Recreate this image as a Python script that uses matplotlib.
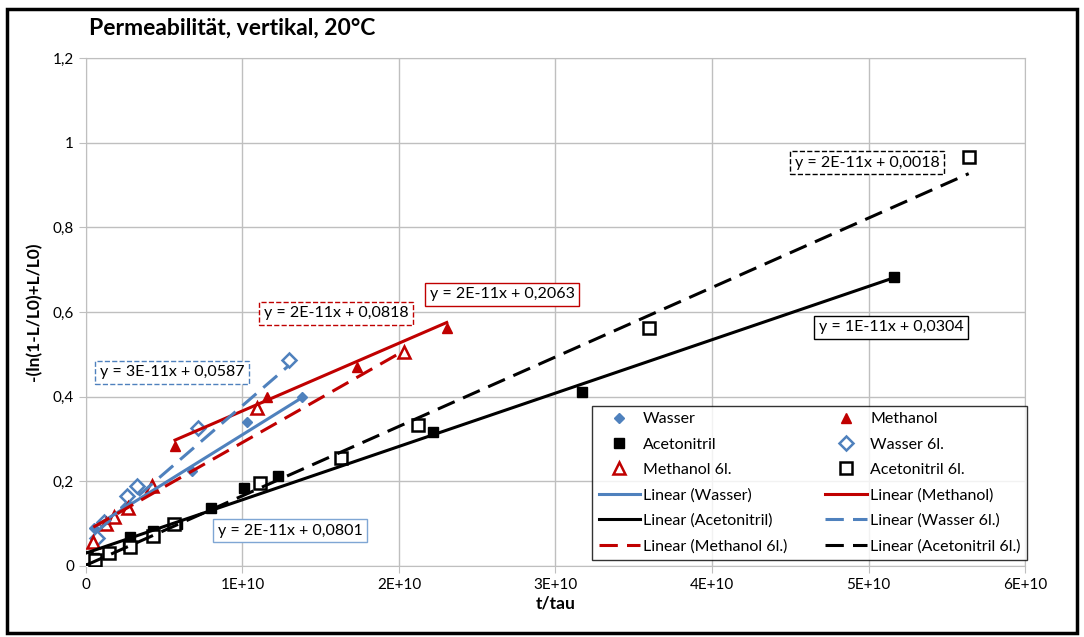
import matplotlib.pyplot as plt
from matplotlib.patches import Rectangle
from matplotlib.ticker import FuncFormatter, MultipleLocator

plt.rcParams['font.family'] = ['Lato', 'DejaVu Sans']

# Messwerte, t/tau in Einheiten von 1E+10
wasser_x = [0.05, 0.25, 0.68, 1.03, 1.38]
wasser_y = [0.09, 0.14, 0.224, 0.34, 0.40]

methanol_x = [0.569, 1.155, 1.73, 2.305]
methanol_y = [0.283, 0.399, 0.470, 0.561]

aceto_x = [0.0, 0.05, 0.27, 0.28, 0.43, 0.58, 0.80, 1.01, 1.23, 2.22, 3.17, 5.16]
aceto_y = [0.012, 0.02, 0.05, 0.068, 0.083, 0.10, 0.136, 0.185, 0.212, 0.317, 0.41, 0.682]

wasser6_x = [0.07, 0.115, 0.262, 0.326, 0.716, 1.297]
wasser6_y = [0.066, 0.104, 0.165, 0.189, 0.325, 0.486]

methanol6_x = [0.047, 0.13, 0.18, 0.27, 0.42, 1.09, 2.03]
methanol6_y = [0.057, 0.10, 0.115, 0.136, 0.19, 0.373, 0.505]

aceto6_x = [0.0, 0.0, 0.06, 0.15, 0.28, 0.43, 0.56, 1.11, 1.63, 2.12, 3.60, 5.64]
aceto6_y = [0.0, 0.02, 0.014, 0.03, 0.046, 0.07, 0.10, 0.195, 0.256, 0.334, 0.561, 0.965]

namen = ["Wasser", "Methanol", "Acetonitril", "Wasser 6l.", "Methanol 6l.", "Acetonitril 6l."]
xs = [wasser_x, methanol_x, aceto_x, wasser6_x, methanol6_x, aceto6_x]
ys = [wasser_y, methanol_y, aceto_y, wasser6_y, methanol6_y, aceto6_y]

# lineare Trendlinien: Steigung und Achsenabschnitt
trend_steigung = [2.3e-11, 1.6e-11, 1.26e-11, 3.2e-11, 2.1e-11, 1.64e-11]
trend_abschnitt = [0.0801, 0.2063, 0.0304, 0.0587, 0.0818, 0.0018]

# Lage der Gleichungsfelder (x in 1E+10, y)
gl_x = [1.304, 2.658, 5.144, 0.550, 1.597, 4.99]
gl_y = [0.083, 0.642, 0.564, 0.458, 0.597, 0.953]

blau = '#4F81BD'
rot = '#C00000'
schwarz = 'black'
farben = [blau, rot, schwarz, blau, rot, schwarz]
marker = ['D', '^', 's', 'D', '^', 's']
msize = [5, 7, 7, 7, 8, 8]
gefuellt = [True, True, True, False, False, False]

fig = plt.figure(figsize=(10.84, 6.37), dpi=100)
ax = fig.add_axes([0.0793, 0.1115, 0.8663, 0.7975])

punkte = []
linien = []
for i in range(6):
    x = [v * 1e10 for v in xs[i]]
    p, = ax.plot(x, ys[i], linestyle='none', marker=marker[i], markersize=msize[i],
                 color=farben[i], markerfacecolor=farben[i] if gefuellt[i] else 'white',
                 markeredgewidth=1.8 if not gefuellt[i] else 1, label=namen[i], zorder=3)
    punkte.append(p)
    x0, x1 = min(x), max(x)
    ls = '-' if i < 3 else (0, (6, 3))
    l, = ax.plot([x0, x1],
                 [trend_abschnitt[i] + trend_steigung[i] * x0,
                  trend_abschnitt[i] + trend_steigung[i] * x1],
                 color=farben[i], linewidth=2.2, linestyle=ls,
                 label='Linear (%s)' % namen[i], zorder=4)
    linien.append(l)

    # Gleichung der Trendlinie
    text = 'y = %sx + %s' % ('{:.0E}'.format(trend_steigung[i]),
                             '{:.4f}'.format(trend_abschnitt[i]).replace('.', ','))
    rand = '#7FA6D4' if i == 0 else farben[i]
    ax.text(gl_x[i] * 1e10, gl_y[i], text, ha='center', va='center', fontsize=11.5,
            zorder=5,
            bbox=dict(boxstyle='square,pad=0.28', facecolor='white', edgecolor=rand,
                      linewidth=1, linestyle='-' if i < 3 else '--'))

ax.set_xlim(0, 6e10)
ax.set_ylim(0, 1.2)
ax.xaxis.set_major_locator(MultipleLocator(1e10))
ax.yaxis.set_major_locator(MultipleLocator(0.2))
ax.xaxis.set_major_formatter(FuncFormatter(lambda v, p: '0' if v == 0 else '%dE+10' % round(v / 1e10)))
ax.yaxis.set_major_formatter(FuncFormatter(lambda v, p: ('%g' % round(v, 1)).replace('.', ',')))
ax.grid(True, color='#BFBFBF', linewidth=1)
ax.set_axisbelow(True)
for s in ax.spines.values():
    s.set_color('#BFBFBF')
ax.tick_params(colors='#BFBFBF', labelcolor='black', labelsize=11, length=5)

ax.set_xlabel('t/tau', fontsize=12.5, fontweight='bold', labelpad=3)
ax.set_ylabel('-(ln(1-L/L0)+L/L0)', fontsize=12.5, fontweight='bold', labelpad=8)
fig.text(0.082, 0.955, 'Permeabilität, vertikal, 20°C', fontsize=16.5, fontweight='bold',
         ha='left', va='center')

# Legende zeilenweise wie in Excel
eintraege = punkte + linien
geordnet = eintraege[0::2] + eintraege[1::2]
leg = ax.legend(geordnet, [h.get_label() for h in geordnet], ncol=2, loc='lower left',
                bbox_to_anchor=(0.539, 0.012, 0.463, 0.3), mode='expand',
                fontsize=11.5, frameon=True, fancybox=False, handlelength=2.6,
                borderpad=0.4, labelspacing=0.7, handletextpad=0.2, borderaxespad=0)
leg.get_frame().set_edgecolor('black')
leg.get_frame().set_linewidth(1)
leg.set_zorder(6)

# Rahmen um das Diagramm
fig.patches.append(Rectangle((0.0065, 0.006), 0.987, 0.98, transform=fig.transFigure,
                             fill=False, edgecolor='black', linewidth=2.5))

fig.savefig('out.png', dpi=100)
